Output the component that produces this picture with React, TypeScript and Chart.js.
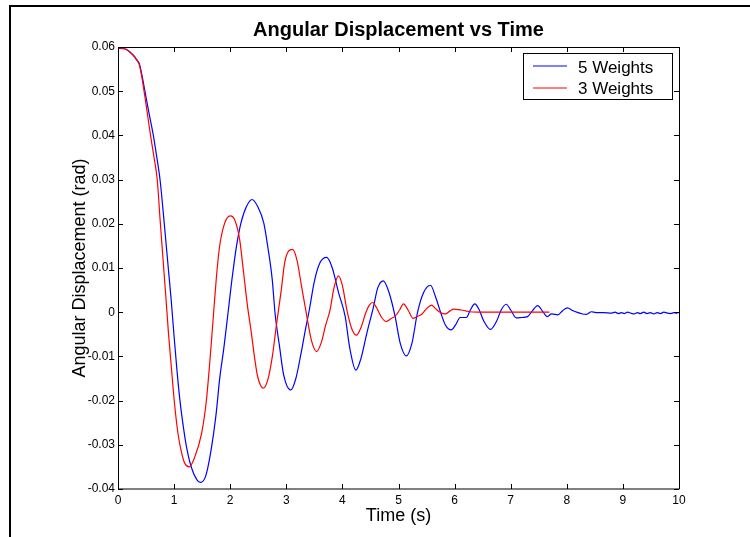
import React, { useEffect, useRef } from 'react';
import { Chart, registerables } from 'chart.js';

Chart.register(...registerables);

const TITLE = 'Angular Displacement vs Time';
const X_LABEL = 'Time (s)';
const Y_LABEL = 'Angular Displacement (rad)';
const SERIES_NAMES = ['5 Weights', '3 Weights'];
const SERIES_COLORS = ['#0000ff', '#ff0000'];

const X_TICKS = [0, 1, 2, 3, 4, 5, 6, 7, 8, 9, 10];
const X_TICK_LABELS = ['0', '1', '2', '3', '4', '5', '6', '7', '8', '9', '10'];
const Y_TICKS = [-0.04, -0.03, -0.02, -0.01, 0, 0.01, 0.02, 0.03, 0.04, 0.05, 0.06];
const Y_TICK_LABELS = ['-0.04', '-0.03', '-0.02', '-0.01', '0', '0.01', '0.02', '0.03', '0.04', '0.05', '0.06'];

// 5 Weights (blue)
const timeBlue = [
  0.00, 0.12, 0.20, 0.27, 0.33, 0.38, 0.43, 0.48, 0.55, 0.63, 0.69, 0.75, 0.80, 0.85, 0.90, 0.95,
  1.00, 1.05, 1.10, 1.16, 1.22, 1.31, 1.41, 1.47, 1.56, 1.65, 1.75, 1.81, 1.89, 1.96,
  2.03, 2.11, 2.19, 2.29, 2.39, 2.49, 2.60, 2.67, 2.75, 2.80, 2.88, 2.95,
  3.08, 3.17, 3.26, 3.34, 3.41, 3.50, 3.60, 3.72, 3.82, 3.93,
  4.05, 4.13, 4.24, 4.33, 4.44, 4.55, 4.63, 4.73, 4.83, 4.94,
  5.03, 5.14, 5.24, 5.34, 5.45, 5.57, 5.66, 5.75, 5.84, 5.94,
  6.02, 6.10, 6.21, 6.28, 6.36, 6.44, 6.52, 6.64, 6.75, 6.83, 6.92,
  7.00, 7.10, 7.20, 7.30, 7.38, 7.48, 7.57, 7.65, 7.73, 7.84, 7.93,
  8.01, 8.10, 8.20, 8.28, 8.35, 8.44, 8.52, 8.65, 8.80, 8.86, 8.92, 8.97,
  9.03, 9.08, 9.14, 9.20, 9.26, 9.31, 9.37, 9.43, 9.49, 9.55, 9.61, 9.67, 9.73, 9.79, 9.85, 9.91, 9.96, 10.0,
];
const dispBlue = [
  0.0597, 0.0596, 0.0590, 0.0582, 0.0572, 0.0562, 0.0534, 0.0500, 0.0452, 0.0400, 0.0352, 0.0299, 0.0235, 0.0165, 0.0095, 0.0025,
  -0.0055, -0.0130, -0.0195, -0.0255, -0.0304, -0.0352, -0.0380, -0.0385, -0.0372, -0.0319, -0.0229, -0.0153, -0.0078, -0.0003,
  0.0073, 0.0148, 0.0201, 0.0239, 0.0255, 0.0239, 0.0201, 0.0148, 0.0073, -0.0003, -0.0078, -0.0140,
  -0.0176, -0.0150, -0.0095, -0.0040, 0.0005, 0.0070, 0.0112, 0.0124, 0.0100, 0.0045,
  -0.0010, -0.0080, -0.0131, -0.0105, -0.0045, 0.0010, 0.0055, 0.0071, 0.0045, -0.0010,
  -0.0070, -0.0099, -0.0070, 0.0000, 0.0045, 0.0061, 0.0035, 0.0000, -0.0030, -0.0040,
  -0.0028, -0.0012, -0.0012, 0.0005, 0.0019, 0.0005, -0.0020, -0.0039, -0.0020, 0.0005, 0.0018,
  0.0005, -0.0013, -0.0012, -0.0010, 0.0002, 0.0015, 0.0002, -0.0010, -0.0004, -0.0006, 0.0004,
  0.0010, 0.0004, -0.0001, -0.0004, -0.0005, 0.0001, -0.0001, -0.0001, -0.0002, 0.0000, -0.0003, -0.0001,
  -0.0003, 0.0000, -0.0002, -0.0004, -0.0001, -0.0003, 0.0000, -0.0003, -0.0001, -0.0004, -0.0001, -0.0003, 0.0000, -0.0002, -0.0003, -0.0001, -0.0002, 0.0000,
];

// 3 Weights (red)
const timeRed = [
  0.00, 0.12, 0.20, 0.27, 0.33, 0.38, 0.43, 0.50, 0.58, 0.64, 0.70, 0.75, 0.80, 0.85, 0.90, 0.95,
  1.01, 1.07, 1.13, 1.19, 1.27, 1.37, 1.49, 1.57, 1.63, 1.69, 1.75, 1.81, 1.90,
  2.00, 2.08, 2.17, 2.24, 2.31, 2.37, 2.44, 2.49, 2.59, 2.67, 2.75, 2.82, 2.91, 2.97,
  3.04, 3.11, 3.19, 3.27, 3.36, 3.45, 3.54, 3.62, 3.70, 3.78, 3.85, 3.93,
  4.00, 4.08, 4.16, 4.25, 4.33, 4.42, 4.48, 4.54, 4.61, 4.70, 4.78, 4.86, 4.94,
  5.02, 5.09, 5.17, 5.26, 5.33, 5.42, 5.50, 5.59, 5.66, 5.74, 5.83, 5.92, 5.98,
  6.05, 6.12, 6.20, 6.27, 6.50, 7.00, 7.69,
];
const dispRed = [
  0.0598, 0.0596, 0.0590, 0.0581, 0.0571, 0.0560, 0.0528, 0.0470, 0.0400, 0.0352, 0.0299, 0.0210, 0.0125, 0.0040, -0.0048, -0.0123,
  -0.0210, -0.0275, -0.0316, -0.0342, -0.0350, -0.0327, -0.0274, -0.0206, -0.0123, -0.0025, 0.0073, 0.0148, 0.0201,
  0.0218, 0.0209, 0.0163, 0.0088, 0.0012, -0.0040, -0.0108, -0.0146, -0.0172, -0.0153, -0.0101, -0.0033, 0.0050, 0.0111,
  0.0138, 0.0142, 0.0118, 0.0060, -0.0005, -0.0065, -0.0089, -0.0070, -0.0030, 0.0005, 0.0055, 0.0082,
  0.0060, 0.0005, -0.0035, -0.0052, -0.0035, 0.0000, 0.0016, 0.0022, 0.0010, -0.0012, -0.0021, -0.0015, -0.0009,
  0.0005, 0.0019, 0.0005, -0.0014, -0.0010, -0.0004, 0.0008, 0.0016, 0.0008, 0.0000, -0.0004, 0.0003, 0.0007,
  0.0006, 0.0005, 0.0003, 0.0001, 0.0000, 0.0000, 0.0000,
];

const FONT = '"Liberation Sans", Arial, Helvetica, sans-serif';

const decorPlugin = {
  id: 'decor',
  beforeDraw(chart: any) {
    const { ctx, width, height } = chart;
    ctx.save();
    ctx.fillStyle = '#ffffff';
    ctx.fillRect(0, 0, width, height);
    ctx.restore();
  },
  afterDraw(chart: any) {
    const { ctx, chartArea: a, width, height } = chart;
    const xs = chart.scales.x;
    const ys = chart.scales.y;
    ctx.save();
    // outer frame (top + left)
    ctx.fillStyle = '#000';
    ctx.fillRect(9, 5, 2, height - 5);
    ctx.fillRect(9, 5, width - 9, 2);

    // axes box
    ctx.strokeStyle = '#000';
    ctx.lineWidth = 1;
    ctx.beginPath();
    ctx.rect(a.left + 0.5, a.top + 0.5, a.right - a.left, a.bottom - a.top - 0.5);
    ctx.stroke();

    // inward ticks
    const tl = 5;
    ctx.beginPath();
    X_TICKS.forEach((v) => {
      const px = Math.round(xs.getPixelForValue(v)) + 0.5;
      ctx.moveTo(px, a.bottom);
      ctx.lineTo(px, a.bottom - tl);
      ctx.moveTo(px, a.top);
      ctx.lineTo(px, a.top + tl);
    });
    Y_TICKS.forEach((v) => {
      const py = Math.round(ys.getPixelForValue(v)) + 0.5;
      ctx.moveTo(a.left, py);
      ctx.lineTo(a.left + tl, py);
      ctx.moveTo(a.right, py);
      ctx.lineTo(a.right - tl, py);
    });
    ctx.stroke();

    // title
    ctx.fillStyle = '#000';
    ctx.font = `bold 20px ${FONT}`;
    ctx.textAlign = 'center';
    ctx.textBaseline = 'alphabetic';
    ctx.fillText(TITLE, (a.left + a.right) / 2, 36);

    // legend
    const bx = 523.5, by = 53.5, bw = 149, bh = 46;
    ctx.fillStyle = '#fff';
    ctx.fillRect(bx, by, bw, bh);
    ctx.strokeStyle = '#000';
    ctx.lineWidth = 1;
    ctx.strokeRect(bx, by, bw, bh);
    ctx.font = `17px ${FONT}`;
    ctx.textAlign = 'left';
    chart.data.datasets.forEach((ds: any, i: number) => {
      const ly = 66 + i * 22;
      ctx.strokeStyle = ds.borderColor;
      ctx.beginPath();
      ctx.moveTo(533, ly);
      ctx.lineTo(567, ly);
      ctx.stroke();
      ctx.fillStyle = '#000';
      ctx.fillText(ds.label, 578, 73 + i * 20.5);
    });
    ctx.restore();
  },
};

export default function App() {
  const canvasRef = useRef<HTMLCanvasElement | null>(null);

  useEffect(() => {
    document.body.style.margin = '0';
    const canvas = canvasRef.current;
    if (!canvas) return;
    const chart = new Chart(canvas, {
      type: 'line',
      data: {
        datasets: [
          {
            label: SERIES_NAMES[0],
            data: timeBlue.map((t, i) => ({ x: t, y: dispBlue[i] })),
            borderColor: SERIES_COLORS[0],
            backgroundColor: SERIES_COLORS[0],
            borderWidth: 1.2,
            pointRadius: 0,
            cubicInterpolationMode: 'monotone',
            fill: false,
            order: 1,
          },
          {
            label: SERIES_NAMES[1],
            data: timeRed.map((t, i) => ({ x: t, y: dispRed[i] })),
            borderColor: SERIES_COLORS[1],
            backgroundColor: SERIES_COLORS[1],
            borderWidth: 1.2,
            pointRadius: 0,
            cubicInterpolationMode: 'monotone',
            fill: false,
            order: 0,
          },
        ],
      },
      options: {
        responsive: false,
        animation: false,
        devicePixelRatio: 1,
        layout: { padding: { left: 0, top: 47, right: 71, bottom: 0 } },
        plugins: {
          legend: { display: false },
          title: { display: false },
          tooltip: { enabled: false },
        },
        events: [],
        scales: {
          x: {
            type: 'linear',
            min: 0,
            max: 10,
            grid: { display: false, drawTicks: false },
            border: { display: false },
            afterBuildTicks: (s: any) => {
              s.ticks = X_TICKS.map((v) => ({ value: v }));
            },
            afterFit: (s: any) => {
              s.height = 48;
            },
            ticks: {
              autoSkip: false,
              maxRotation: 0,
              padding: 4,
              color: '#000',
              font: { family: FONT, size: 12 },
              callback: (_v: any, i: number) => X_TICK_LABELS[i],
            },
            title: {
              display: true,
              text: X_LABEL,
              color: '#000',
              font: { family: FONT, size: 18 },
              padding: { top: 0, bottom: 10 },
            },
          },
          y: {
            type: 'linear',
            min: -0.04,
            max: 0.06,
            grid: { display: false, drawTicks: false },
            border: { display: false },
            afterBuildTicks: (s: any) => {
              s.ticks = Y_TICKS.map((v) => ({ value: v }));
            },
            afterFit: (s: any) => {
              s.width = 118;
            },
            ticks: {
              autoSkip: false,
              padding: 3,
              color: '#000',
              font: { family: FONT, size: 12 },
              callback: (_v: any, i: number) => Y_TICK_LABELS[i],
            },
            title: {
              display: true,
              text: Y_LABEL,
              color: '#000',
              font: { family: FONT, size: 18 },
              padding: { top: 69, bottom: 0 },
            },
          },
        },
      },
      plugins: [decorPlugin],
    } as any);
    return () => chart.destroy();
  }, []);

  return (
    <div style={{ position: 'absolute', left: 0, top: 0, width: 750, height: 537, background: '#fff' }}>
      <canvas ref={canvasRef} width={750} height={537} style={{ display: 'block', width: 750, height: 537 }} />
    </div>
  );
}
